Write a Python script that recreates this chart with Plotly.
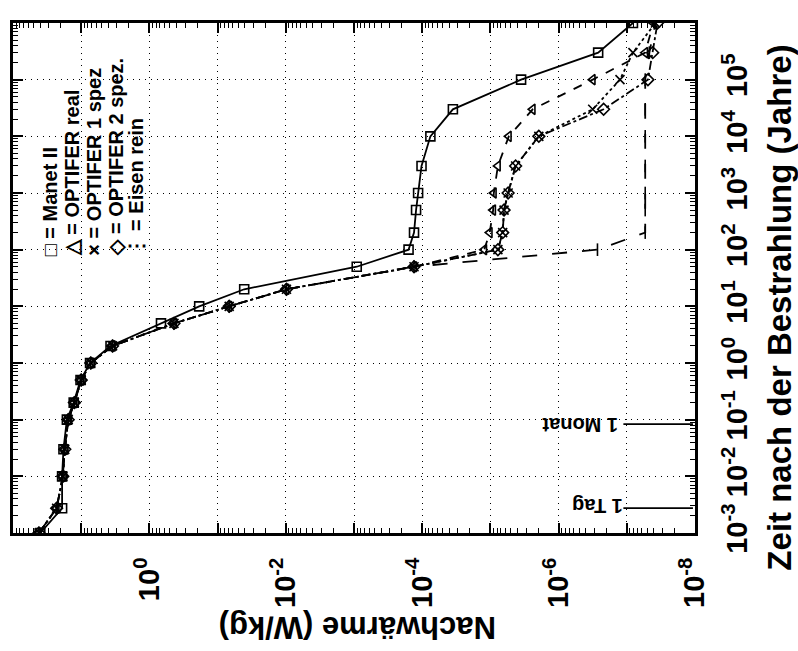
import plotly.graph_objects as go

# ---------------- data ----------------
# time after irradiation (years)
t_all = [0.001, 1/365, 0.01, 0.03, 0.1, 0.2, 0.5, 1, 2, 5, 10, 20, 50,
         100, 200, 500, 1000, 3000, 1e4, 3e4, 1e5, 3e5, 1e6]
# decay heat, log10(W/kg)
manet_log = [1.60, 1.28, 1.28, 1.26, 1.21, 1.11, 1.01, 0.87, 0.57, -0.17, -0.73, -1.39, -3.04,
             -3.80, -3.88, -3.91, -3.94, -3.99, -4.12, -4.45, -5.45, -6.58, -7.09]
early_log = [1.62, 1.36, 1.27, 1.24, 1.19, 1.10, 1.00, 0.86, 0.54, -0.36, -1.17, -2.01, -3.88]
real_late = [-4.91, -4.99, -5.04, -5.05, -5.11, -5.27, -5.62, -6.50, -7.27, -7.39]
spez1_late = [-5.11, -5.18, -5.20, -5.26, -5.37, -5.71, -6.50, -6.90, -7.09, -7.42]
spez2_late = [-5.11, -5.18, -5.20, -5.26, -5.37, -5.71, -6.66, -7.31, -7.38, -7.45]
eisen_late = [-6.57, -7.27, -7.27, -7.27, -7.27, -7.27, -7.27, -7.27, -7.33, -7.42]

names = ["Manet II", "OPTIFER real", "OPTIFER 1 spez", "OPTIFER 2 spez.", "Eisen rein"]
legend_syms = ["\u25A1", "\u25B3", "\u00D7", "\u25C7", "\u22EE"]

x_ticks = [10.0**k for k in range(2, -9, -1)]
x_labels = ["", "", "10<sup>0</sup>", "", "10<sup>-2</sup>", "", "10<sup>-4</sup>", "",
            "10<sup>-6</sup>", "", "10<sup>-8</sup>"]
y_ticks = [10.0**k for k in range(-3, 7)]
y_labels = ["10<sup>-3</sup>", "10<sup>-2</sup>", "10<sup>-1</sup>", "10<sup>0</sup>",
            "10<sup>1</sup>", "10<sup>2</sup>", "10<sup>3</sup>", "10<sup>4</sup>",
            "10<sup>5</sup>", "10<sup>6</sup>"]

marks_t = [1/12, 1/365]
marks_text = ["1 Monat", "1 Tag"]

# -------------- figure ----------------
FONT = "Liberation Sans, Arial, sans-serif"
fig = go.Figure()

def heat(logs):
    return [10.0**v for v in logs]

series = [
    (manet_log, "solid", "square-open", 9),
    (early_log + real_late, "dash", "triangle-left-open", 9),
    (early_log + spez1_late, "dot", "x-thin-open", 9),
    (early_log + spez2_late, "dashdot", "diamond-open", 9),
    (early_log + eisen_late, "longdash", "line-ns-open", 9),
]
for (logs, dash, sym, sz), nm in zip(series, names):
    fig.add_trace(go.Scatter(
        x=heat(logs), y=t_all, name=nm, mode="lines+markers",
        line=dict(color="black", width=1.8, dash=dash),
        marker=dict(symbol=sym, size=sz, color="black",
                    line=dict(color="black", width=1.6)),
        showlegend=False))

# "1 Monat" / "1 Tag" marker lines
for tm in marks_t:
    fig.add_trace(go.Scatter(x=[10**-6.95, 10**-7.97], y=[tm, tm], mode="lines",
                             line=dict(color="black", width=1.8), showlegend=False,
                             hoverinfo="skip"))

minor_x = [m * 10.0**d for d in range(-8, 2) for m in range(2, 10)]
minor_y = [m * 10.0**d for d in range(-3, 6) for m in range(2, 10)]

tickfont = dict(family=FONT, size=29, color="black", weight="bold")
common = dict(type="log", autorange=False, tickmode="array", tickangle=-90,
              ticks="inside", ticklen=10, tickwidth=1.6, tickcolor="black",
              showline=True, linecolor="black", linewidth=3, mirror="ticks",
              showgrid=True, gridcolor="black", griddash="1px,5px", gridwidth=1,
              zeroline=False, tickfont=tickfont)
fig.update_xaxes(range=[2, -8], tickvals=x_ticks, ticktext=x_labels,
                 ticklabelstandoff=10,
                 minor=dict(tickmode="array", tickvals=minor_x, ticks="inside",
                            ticklen=5, tickwidth=1.2, tickcolor="black", showgrid=False),
                 **common)
fig.update_yaxes(range=[-3, 6], side="right", tickvals=y_ticks, ticktext=y_labels,
                 ticklabelstandoff=14,
                 minor=dict(tickmode="array", tickvals=minor_y, ticks="inside",
                            ticklen=5, tickwidth=1.2, tickcolor="black", showgrid=False),
                 **common)

# legend as rotated text
PW, PH, L, T = 685.0, 510.0, 10.0, 23.0
def px(xp):
    return (xp - L) / PW
def py(yp):
    return (T + PH - yp) / PH

leg_x = [47, 69, 91, 113, 134]
for s, nm, xp in zip(legend_syms, names, leg_x):
    fig.add_annotation(xref="paper", yref="paper", x=px(xp), y=py(258),
                       xanchor="center", yanchor="bottom", showarrow=False,
                       textangle=-90, text=f"{s} = {nm}",
                       font=dict(family=FONT, size=20, color="black", weight="bold"))

# axis titles
fig.add_annotation(xref="paper", yref="paper", x=px(779), y=py(308),
                   xanchor="center", yanchor="middle", showarrow=False, textangle=-90,
                   text="Zeit nach der Bestrahlung (Jahre)",
                   font=dict(family=FONT, size=33, color="black", weight="bold"))
fig.add_annotation(xref="paper", yref="paper", x=px(356), y=py(628),
                   xanchor="center", yanchor="middle", showarrow=False, textangle=180,
                   text="Nachwärme (W/kg)",
                   font=dict(family=FONT, size=31, color="black", weight="bold"))

# 1 Monat / 1 Tag labels
for txt, xp, yp in zip(marks_text, [580, 597], [425, 506]):
    fig.add_annotation(xref="paper", yref="paper", x=px(xp), y=py(yp),
                       xanchor="center", yanchor="middle", showarrow=False, textangle=180,
                       text=txt, font=dict(family=FONT, size=20, color="black", weight="bold"))

fig.update_layout(width=798, height=651,
                  margin=dict(l=10, r=103, t=23, b=118),
                  paper_bgcolor="white", plot_bgcolor="white",
                  showlegend=False)

fig.write_html("out.html")
